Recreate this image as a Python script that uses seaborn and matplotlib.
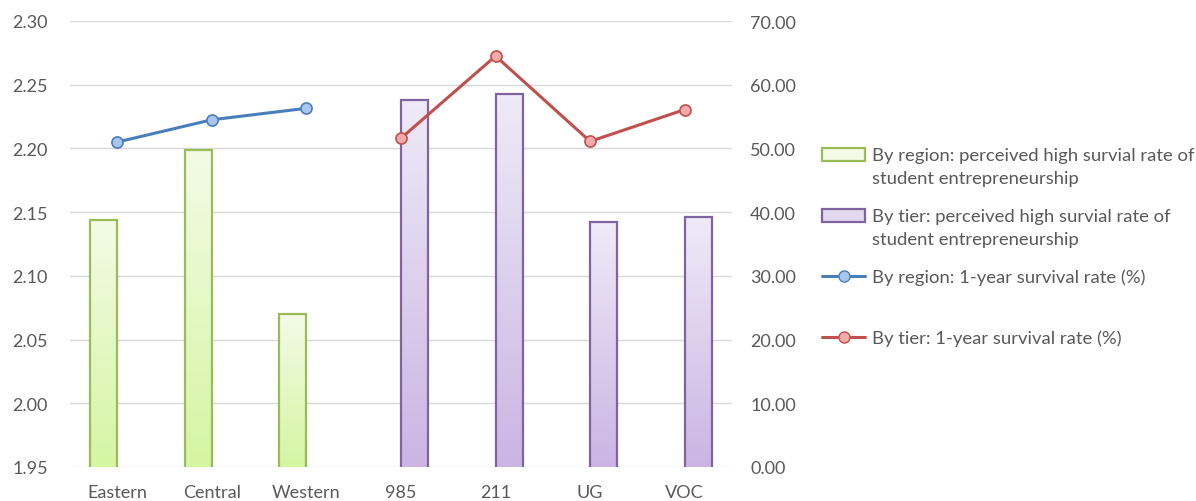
import numpy as np
import pandas as pd
import matplotlib
matplotlib.use("Agg")
import matplotlib.pyplot as plt
import seaborn as sns
from matplotlib.colors import LinearSegmentedColormap
from matplotlib.lines import Line2D
from matplotlib.patches import Patch, Rectangle
from matplotlib.legend_handler import HandlerPatch, HandlerLine2D


# ── Data ───────────────────────────────────────────────────────────────────────
categories = ["Eastern", "Central", "Western", "985", "211", "UG", "VOC"]
region_cats = ["Eastern", "Central", "Western"]
tier_cats = ["985", "211", "UG", "VOC"]

region_score = [2.144, 2.199, 2.070]          # left axis, bars
tier_score = [2.238, 2.243, 2.142, 2.146]
region_survival = [51.0, 54.5, 56.3]          # right axis, lines (%)
tier_survival = [51.6, 64.5, 51.1, 56.1]

left_ticks = [1.95, 2.00, 2.05, 2.10, 2.15, 2.20, 2.25, 2.30]
right_ticks = [0, 10, 20, 30, 40, 50, 60, 70]

legend_labels = [
    "By region: perceived high survial rate of\nstudent entrepreneurship",
    "By tier: perceived high survial rate of\nstudent entrepreneurship",
    "By region: 1-year survival rate (%)\n ",
    "By tier: 1-year survival rate (%)",
]

# ── Style ──────────────────────────────────────────────────────────────────────
GREEN_EDGE, GREEN_TOP, GREEN_BOT = "#9bbb59", "#f3fbe6", "#d5f5a2"
PURPLE_EDGE, PURPLE_TOP, PURPLE_BOT = "#8064a2", "#efeaf7", "#cab5e4"
BLUE, BLUE_FILL = "#4a7ebb", "#a9c6ee"
RED, RED_FILL = "#c0504d", "#f4aaa8"
TEXT = "#595959"
GRID = "#d9d9d9"
LEG_FS = 13.3
LEG_LS = 1.56     # line spacing inside legend labels (~24 px step)
SHIFT = 8.6       # points: lift handle onto the first label line

sns.set_theme(style="white")
plt.rcParams["font.family"] = ["Lato", "DejaVu Sans"]

# ── Frames ─────────────────────────────────────────────────────────────────────
bars = pd.DataFrame({
    "category": region_cats + tier_cats,
    "score": region_score + tier_score,
    "group": ["region"] * len(region_cats) + ["tier"] * len(tier_cats),
})
lines_region = pd.DataFrame({
    "pos": [categories.index(c) for c in region_cats],
    "rate": region_survival,
})
lines_tier = pd.DataFrame({
    "pos": [categories.index(c) for c in tier_cats],
    "rate": tier_survival,
})

fig = plt.figure(figsize=(11.96, 5.02), dpi=100)
ax = fig.add_axes([70 / 1196, 34 / 502, 662 / 1196, 446 / 502])

palette = {"region": GREEN_BOT, "tier": PURPLE_BOT}
sns.barplot(data=bars, x="category", y="score", hue="group", order=categories,
            hue_order=["region", "tier"], palette=palette, width=0.57,
            saturation=1, dodge=True, legend=False, ax=ax)

ax.set_ylim(1.95, 2.30)
ax.set_xlim(-0.5, len(categories) - 0.5)

# gradient fill inside each bar, keeping the outline on top
ybot = ax.get_ylim()[0]
grad = np.linspace(0, 1, 256).reshape(-1, 1)
for p in ax.patches:
    cx = p.get_x() + p.get_width() / 2
    if cx < categories.index(tier_cats[0]) - 0.5:
        cm = LinearSegmentedColormap.from_list("g", [GREEN_BOT, GREEN_TOP])
        edge = GREEN_EDGE
    else:
        cm = LinearSegmentedColormap.from_list("p", [PURPLE_BOT, PURPLE_TOP])
        edge = PURPLE_EDGE
    x0, w, top = p.get_x(), p.get_width(), p.get_y() + p.get_height()
    im = ax.imshow(grad, cmap=cm, origin="lower", aspect="auto",
                   extent=[x0, x0 + w, max(ybot, p.get_y()), top], zorder=1.5)
    im.set_clip_path(p)
    p.set_facecolor("none")
    p.set_edgecolor(edge)
    p.set_linewidth(1.6)
    p.set_zorder(2)

ax.set_ylim(1.95, 2.30)
ax.set_xlim(-0.5, len(categories) - 0.5)
ax.set_yticks(left_ticks)
ax.set_yticklabels([f"{v:.2f}" for v in left_ticks])
ax.yaxis.grid(True, color=GRID, linewidth=1)
ax.set_axisbelow(True)
ax.set_xlabel("")
ax.set_ylabel("")
ax.tick_params(axis="y", length=0, pad=16, labelsize=13, labelcolor=TEXT)
ax.tick_params(axis="x", length=0, pad=12, labelsize=13, labelcolor=TEXT)
for s in ax.spines.values():
    s.set_visible(False)

# ── Survival-rate lines on the secondary axis ──────────────────────────────────
ax2 = ax.twinx()
sns.lineplot(data=lines_region, x="pos", y="rate", color=BLUE, linewidth=2.2,
             marker="o", markersize=8, markerfacecolor=BLUE_FILL,
             markeredgecolor=BLUE, markeredgewidth=1.2, ax=ax2)
sns.lineplot(data=lines_tier, x="pos", y="rate", color=RED, linewidth=2.2,
             marker="o", markersize=8, markerfacecolor=RED_FILL,
             markeredgecolor=RED, markeredgewidth=1.2, ax=ax2)
ax2.set_ylim(0, 70)
ax2.set_yticks(right_ticks)
ax2.set_yticklabels([f"{v:.2f}" for v in right_ticks])
ax2.set_ylabel("")
ax2.grid(False)
ax2.tick_params(axis="y", length=0, pad=13, labelsize=13, labelcolor=TEXT)
for s in ax2.spines.values():
    s.set_visible(False)
ax.set_xlim(-0.5, len(categories) - 0.5)


# ── Legend: handle sits on the first line of each two-line label ───────────────
def shifted_rect(legend, orig_handle, xdescent, ydescent, width, height, fontsize):
    return Rectangle((-xdescent, -ydescent + SHIFT), width, height)


class ShiftedLine(HandlerLine2D):
    def create_artists(self, legend, orig_handle, xdescent, ydescent,
                       width, height, fontsize, trans):
        arts = super().create_artists(legend, orig_handle, xdescent, ydescent,
                                      width, height, fontsize, trans)
        for a in arts:
            a.set_ydata(np.asarray(a.get_ydata()) + SHIFT)
        return arts


h_green = Patch(facecolor=GREEN_TOP, edgecolor=GREEN_EDGE, linewidth=1.6)
h_purple = Patch(facecolor="#e2d9f0", edgecolor=PURPLE_EDGE, linewidth=1.6)
h_blue = Line2D([], [], color=BLUE, linewidth=2.2, marker="o", markersize=8,
                markerfacecolor=BLUE_FILL, markeredgecolor=BLUE)
h_red = Line2D([], [], color=RED, linewidth=2.2, marker="o", markersize=8,
               markerfacecolor=RED_FILL, markeredgecolor=RED)

leg = fig.legend([h_green, h_purple, h_blue, h_red], legend_labels,
                 loc="upper left", bbox_to_anchor=(822 / 1196, 1 - 148 / 502),
                 frameon=False, fontsize=LEG_FS, labelcolor=TEXT, borderpad=0,
                 borderaxespad=0, handlelength=2.35, handletextpad=0.35,
                 labelspacing=1.16,
                 handler_map={h_green: HandlerPatch(patch_func=shifted_rect),
                              h_purple: HandlerPatch(patch_func=shifted_rect),
                              h_blue: ShiftedLine()})
for t in leg.get_texts():
    t.set_linespacing(LEG_LS)

fig.savefig("out.png", dpi=100)
